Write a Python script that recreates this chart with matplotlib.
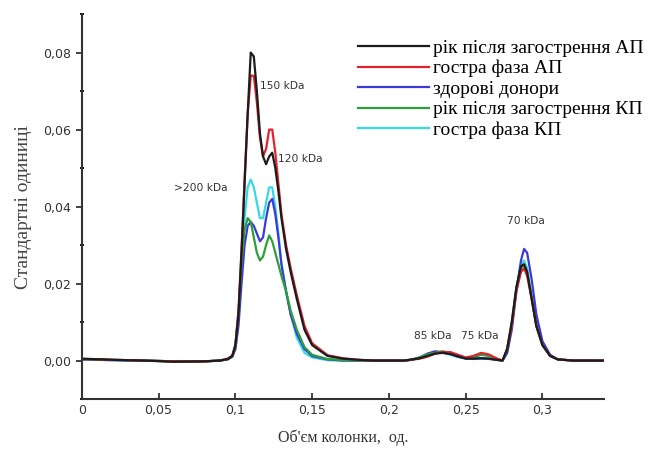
import matplotlib
matplotlib.use("Agg")
import matplotlib.pyplot as plt
from matplotlib.ticker import FuncFormatter, MultipleLocator

# x grid (об'єм колонки)
x = [0, 0.02, 0.04, 0.06, 0.08, 0.09, 0.095, 0.098, 0.100, 0.102, 0.104, 0.106,
     0.108, 0.110, 0.112, 0.114, 0.116, 0.118, 0.120, 0.122, 0.124, 0.126, 0.128,
     0.130, 0.133, 0.136, 0.140, 0.145, 0.150, 0.16, 0.17, 0.18, 0.19, 0.20, 0.21,
     0.215, 0.22, 0.225, 0.23, 0.235, 0.24, 0.245, 0.25, 0.255, 0.26, 0.265, 0.27,
     0.274, 0.277, 0.28, 0.283, 0.286, 0.288, 0.290, 0.293, 0.296, 0.3, 0.305, 0.31,
     0.32, 0.33, 0.34]

rik_ap = [0.0005, 0.0002, 0.0, -0.0003, -0.0002, 0.0, 0.0004, 0.0012, 0.004, 0.012,
          0.028, 0.046, 0.064, 0.080, 0.079, 0.070, 0.059, 0.053, 0.051, 0.053,
          0.054, 0.050, 0.044, 0.037, 0.029, 0.023, 0.016, 0.008, 0.004, 0.0012,
          0.0005, 0.0002, 0.0, 0.0, 0.0, 0.0003, 0.0006, 0.0012, 0.0018, 0.002,
          0.0017, 0.0011, 0.0005, 0.0005, 0.0006, 0.0005, 0.0002, 0.0, 0.003, 0.010,
          0.019, 0.0245, 0.025, 0.023, 0.016, 0.009, 0.004, 0.0012, 0.0003, 0.0,
          0.0, 0.0]

gostra_ap = [0.0004, 0.0002, 0.0, -0.0002, -0.0002, 0.0, 0.0005, 0.0013, 0.004, 0.013,
             0.029, 0.047, 0.064, 0.074, 0.074, 0.067, 0.058, 0.053, 0.055, 0.060,
             0.060, 0.054, 0.046, 0.038, 0.030, 0.024, 0.017, 0.009, 0.0045, 0.0014,
             0.0006, 0.0002, 0.0, 0.0, 0.0, 0.0002, 0.0005, 0.001, 0.0018, 0.0022,
             0.0022, 0.0015, 0.0008, 0.0012, 0.002, 0.0016, 0.0006, 0.0, 0.003, 0.009,
             0.018, 0.023, 0.024, 0.022, 0.016, 0.009, 0.004, 0.0012, 0.0003, 0.0,
             0.0, 0.0]

donory = [0.0003, 0.0001, 0.0, -0.0002, -0.0002, 0.0, 0.0003, 0.001, 0.003, 0.009,
          0.020, 0.030, 0.035, 0.036, 0.035, 0.033, 0.031, 0.032, 0.037, 0.041,
          0.042, 0.038, 0.032, 0.025, 0.018, 0.012, 0.007, 0.003, 0.0012, 0.0003,
          0.0, 0.0, 0.0, 0.0, 0.0, 0.0002, 0.0008, 0.0018, 0.0024, 0.0022,
          0.0017, 0.001, 0.0006, 0.0005, 0.0006, 0.0005, 0.0002, 0.0, 0.002, 0.008,
          0.018, 0.026, 0.029, 0.028, 0.021, 0.012, 0.005, 0.0015, 0.0003, 0.0,
          0.0, 0.0]

rik_kp = [0.0004, 0.0002, 0.0, -0.0002, -0.0002, 0.0, 0.0004, 0.0012, 0.004, 0.012,
          0.025, 0.034, 0.037, 0.036, 0.032, 0.028, 0.026, 0.027, 0.030, 0.0325,
          0.031, 0.028, 0.025, 0.022, 0.018, 0.013, 0.008, 0.0035, 0.0015, 0.0004,
          0.0001, 0.0, 0.0, 0.0, 0.0, 0.0003, 0.0008, 0.0016, 0.002, 0.0024,
          0.002, 0.0013, 0.0006, 0.0008, 0.0015, 0.0012, 0.0005, 0.0, 0.003, 0.010,
          0.019, 0.024, 0.025, 0.023, 0.016, 0.009, 0.004, 0.0012, 0.0003, 0.0,
          0.0, 0.0]

gostra_kp = [0.0003, 0.0001, 0.0, -0.0002, -0.0002, 0.0, 0.0003, 0.001, 0.003, 0.010,
             0.024, 0.037, 0.045, 0.047, 0.045, 0.041, 0.037, 0.037, 0.041, 0.045,
             0.045, 0.040, 0.033, 0.025, 0.018, 0.012, 0.006, 0.002, 0.0008, 0.0001,
             0.0, 0.0, 0.0, 0.0, 0.0, 0.0002, 0.0008, 0.0016, 0.0022, 0.002,
             0.0015, 0.0009, 0.0005, 0.0004, 0.0005, 0.0004, 0.0002, 0.0, 0.002, 0.009,
             0.019, 0.025, 0.026, 0.024, 0.017, 0.010, 0.0045, 0.0013, 0.0003, 0.0,
             0.0, 0.0]

series = [
    ("рік після загострення АП", rik_ap, "#1c1c1c"),
    ("гостра фаза АП", gostra_ap, "#e3212b"),
    ("здорові донори", donory, "#3a3ad8"),
    ("рік після загострення КП", rik_kp, "#2e9e3a"),
    ("гостра фаза КП", gostra_kp, "#36d8e8"),
]

labels = [
    ("150 kDa", 0.116, 0.0705),
    (">200 kDa", 0.060, 0.0440),
    ("120 kDa", 0.128, 0.0517),
    ("70 kDa", 0.277, 0.0355),
    ("85 kDa", 0.216, 0.0055),
    ("75 kDa", 0.247, 0.0055),
]

fig = plt.figure(figsize=(6.6, 4.54), dpi=100)
ax = fig.add_axes([0.124, 0.121, 0.791, 0.848])

# cyan and blue first so the dark ones sit on top
for name, vals, col in [series[4], series[2], series[3], series[1], series[0]]:
    ax.plot(x, vals, color=col, lw=1.6, label=name)

ax.set_xlim(0, 0.34)
ax.set_ylim(-0.01, 0.09)
ax.xaxis.set_major_locator(MultipleLocator(0.05))
ax.yaxis.set_major_locator(MultipleLocator(0.02))
ax.yaxis.set_minor_locator(MultipleLocator(0.01))
ax.xaxis.set_major_formatter(FuncFormatter(lambda v, p: ("%g" % round(v, 3)).replace(".", ",")))
ax.yaxis.set_major_formatter(FuncFormatter(lambda v, p: ("%.2f" % v).replace(".", ",")))
ax.tick_params(axis="x", direction="in", length=4, width=1.3, labelsize=9, colors="#333333")
ax.tick_params(axis="y", direction="out", length=4, width=1.3, labelsize=9, colors="#333333")
ax.tick_params(axis="y", which="minor", direction="inout", length=3, width=1.3)

for s in ["top", "right"]:
    ax.spines[s].set_visible(False)
for s in ["left", "bottom"]:
    ax.spines[s].set_linewidth(1.5)
    ax.spines[s].set_color("#333333")

for txt, tx, ty in labels:
    ax.text(tx, ty, txt, fontsize=7.7, color="#333333")

ax.set_xlabel("Об'єм колонки,  од.", family="Liberation Serif", fontsize=11.5,
              color="#333333", labelpad=9)
ax.set_ylabel("Стандартні одиниці", family="Liberation Serif", fontsize=14,
              color="#444444", labelpad=8)

handles, names = ax.get_legend_handles_labels()
order = [names.index(s[0]) for s in series]
fig.legend([handles[i] for i in order], [names[i] for i in order],
           loc="upper left", bbox_to_anchor=(0.527, 0.935), frameon=False,
           prop={"family": "Liberation Serif", "size": 14}, handlelength=3.7,
           labelspacing=0.15, handletextpad=0.2, borderpad=0)

fig.savefig("out.png", dpi=100)
